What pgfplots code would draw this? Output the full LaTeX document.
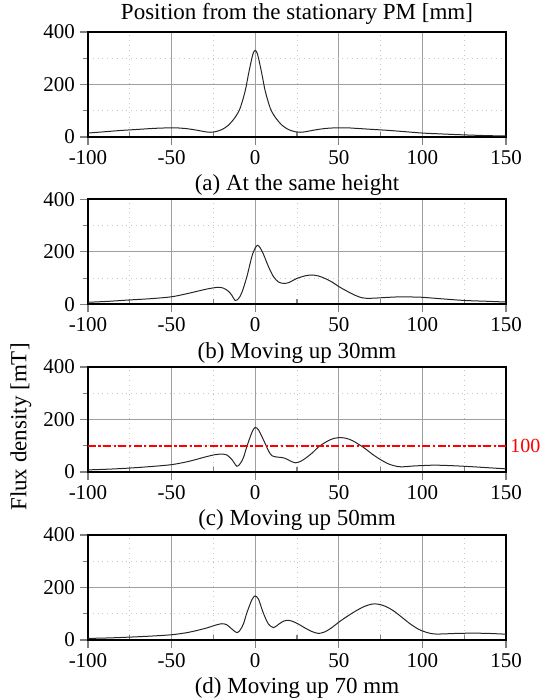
\documentclass[border=0pt]{standalone}
\usepackage{fontspec}
\setmainfont{Liberation Serif}
\usepackage{pgfplots}
\pgfplotsset{compat=1.18}
\definecolor{refred}{RGB}{255,0,0}

\pgfplotsset{
  fluxpanel/.style={
    scale only axis, width=209pt, height=52.5pt,
    xmin=-100, xmax=150, ymin=0, ymax=400,
    xtick={-100,-50,0,50,100,150}, ytick={0,200,400},
    minor x tick num=1, minor y tick num=1,
    xtick pos=bottom, ytick pos=left,
    tick align=inside,
    major tick length=4pt, minor tick length=2.5pt,
    every major x tick/.append style={yshift=-4pt},
    every major y tick/.append style={xshift=-4pt},
    every minor y tick/.append style={xshift=-2.5pt},
    tick style={line width=0.6pt},
    grid=both,
    major grid style={gray!75, line width=0.4pt},
    minor grid style={gray!45, dotted, line width=0.4pt},
    axis line style={line width=0.9pt},
    /pgf/number format/assume math mode=true,
    tick label style={font=\fontsize{10.5}{12.5}\selectfont},
    xticklabel style={yshift=-3pt},
    yticklabel style={xshift=-3pt},
    label style={font=\fontsize{11.5}{13.5}\selectfont},
    xlabel style={yshift=1.5pt},
    every axis title shift=0pt,
    title style={font=\fontsize{11.5}{13.5}\selectfont},
  },
  flux/.style={black!85, line width=0.5pt, smooth},
}

\begin{document}
\begin{tikzpicture}
\useasboundingbox (-44pt,-30pt) rectangle (227.5pt,320pt);
% (a)
\begin{axis}[fluxpanel, at={(0,251.5pt)},
  title={Position from the stationary PM [mm]},
  xlabel={(a) At the same height}]
\addplot[flux] coordinates {
(-100,15)(-90,20)(-80,25)(-70,29)(-60,33)(-50,35)(-45,34)(-40,31)(-35,26)(-30,20)
(-27,18)(-24,20)(-20,28)(-16,45)(-12,75)(-9,110)(-6,175)(-4,240)(-2,300)(-1,322)
(0,330)(1,322)(2,300)(4,240)(6,175)(9,110)(12,75)(16,45)(20,28)(24,20)(27,18)
(30,20)(35,26)(40,31)(45,34)(50,35)(55,35)(60,33)(70,29)(80,25)(90,20)(100,15)
(110,12)(125,8)(140,5)(150,4)};
\end{axis}
% (b)
\begin{axis}[fluxpanel, at={(0,167.8pt)},
  xlabel={(b) Moving up 30mm}]
\addplot[flux] coordinates {
(-100,8)(-87,12)(-75,17)(-62,22)(-50,29)(-40,42)(-30,57)(-25,63)(-22,65)(-19,62)
(-16,50)(-14,35)(-12,15)(-10,22)(-8,45)(-5,105)(-2,182)(0,215)(1.5,225)(3,215)
(5,190)(8,143)(11,105)(14,85)(17,80)(20,83)(25,99)(30,109)(34,112)(38,108)(42,98)
(46,85)(50,68)(55,50)(60,34)(64,25)(67,23)(72,24)(80,27)(88,29)(95,28)(100,27)
(112,21)(125,15)(138,12)(150,9)};
\end{axis}
% (c)
\begin{axis}[fluxpanel, at={(0,84pt)}, name=pc,
  xlabel={(c) Moving up 50mm}]
\addplot[flux] coordinates {
(-100,8)(-87,11)(-75,15)(-62,21)(-50,28)(-40,40)(-30,57)(-24,66)(-20,68)(-17,65)
(-14,48)(-11,22)(-9,32)(-7,55)(-5,97)(-2,150)(0,170)(2,160)(4,135)(6,108)(8,80)
(10,62)(13,57)(16,55)(18,52)(21,42)(24,35)(27,40)(30,52)(34,72)(38,96)(43,117)
(47,128)(50,131)(54,129)(58,120)(62,105)(66,88)(70,68)(75,47)(80,30)(85,21)(89,20)
(95,23)(102,25)(108,26)(118,24)(130,20)(140,16)(150,12)};
\addplot[draw=refred, line width=0.9pt,
  dash pattern=on 4pt off 1.2pt on 1.2pt off 1.2pt] coordinates {(-100,100)(150,100)};
\end{axis}
\node[text=refred, anchor=west, inner sep=0pt, font=\fontsize{10}{12}\selectfont]
  at ([xshift=2pt,yshift=13.1pt]pc.south east) {100};
% (d)
\begin{axis}[fluxpanel, at={(0,0)},
  xlabel={(d) Moving up 70 mm}]
\addplot[flux] coordinates {
(-100,6)(-87,8)(-75,11)(-62,15)(-50,20)(-40,29)(-30,44)(-24,56)(-20,62)(-17,58)
(-14,42)(-11,28)(-9,38)(-7,62)(-5,103)(-2,153)(0,168)(2,155)(4,118)(6,85)(8,60)
(11,47)(14,60)(17,72)(19,75)(22,72)(26,60)(30,45)(34,32)(38,25)(42,32)(46,48)
(50,68)(55,90)(60,110)(65,127)(70,137)(74,136)(78,128)(83,110)(88,85)(93,60)
(98,40)(103,28)(107,23)(112,23)(120,25)(130,26)(140,25)(150,22)};
\end{axis}
\node[rotate=90, font=\fontsize{11.5}{13.5}\selectfont] at (-33.5pt,106.5pt)
  {Flux density [mT]};
\end{tikzpicture}
\end{document}
